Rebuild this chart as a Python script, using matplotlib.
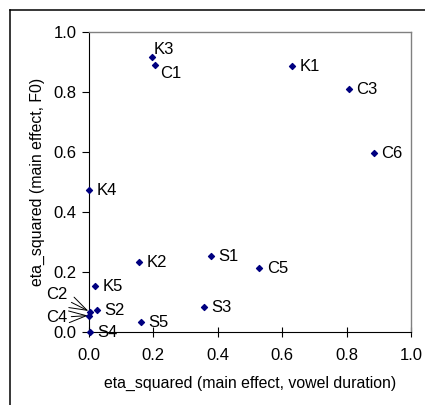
import matplotlib
matplotlib.use("Agg")
from matplotlib import pyplot as plt
from matplotlib.lines import Line2D

plt.rcParams['font.family'] = ['Liberation Sans', 'DejaVu Sans']

labels = ["K1", "K2", "K3", "K4", "K5",
          "C1", "C2", "C3", "C4", "C5", "C6",
          "S1", "S2", "S3", "S4", "S5"]
vowel_duration = [0.630, 0.155, 0.196, 0.000, 0.018,
                  0.205, 0.002, 0.807, 0.001, 0.529, 0.885,
                  0.378, 0.025, 0.357, 0.003, 0.160]
f0 = [0.887, 0.234, 0.917, 0.473, 0.153,
      0.890, 0.068, 0.810, 0.055, 0.214, 0.597,
      0.254, 0.073, 0.084, 0.000, 0.035]
ticks = [0.0, 0.2, 0.4, 0.6, 0.8, 1.0]

# label offsets in points (dx, dy)
offsets = {"K3": (1, 5), "C1": (4, -6)}
callouts = {"C2": (-16, 12), "C4": (-16, -1.5)}

fig = plt.figure(figsize=(4.25, 4.05), dpi=100)
ax = fig.add_axes([89 / 425, 73 / 405, 322 / 425, 300 / 405])

# outer chart frame (only left and top edges fall inside the image)
x0, y0 = 9.5 / 425, (405 - 9.5) / 405
fig.lines.append(Line2D([x0, x0], [-0.1, y0], transform=fig.transFigure,
                        color='black', lw=1.1))
fig.lines.append(Line2D([x0, 1.0], [y0, y0], transform=fig.transFigure,
                        color='black', lw=1.1))

ax.scatter(vowel_duration, f0, marker='D', s=9, color='#000080',
           zorder=5, clip_on=False)

for name, x, y in zip(labels, vowel_duration, f0):
    if name in callouts:
        dx, dy = callouts[name]
        ax.annotate(name, (x, y), xytext=(dx, dy), textcoords='offset points',
                    ha='right', va='center', fontsize=12,
                    arrowprops=dict(arrowstyle='->,head_length=0.9,head_width=0.3',
                                    lw=0.7, color='black',
                                    shrinkA=1, shrinkB=1,
                                    mutation_scale=14))
        continue
    dx, dy = offsets.get(name, (5.5, -0.5))
    ax.annotate(name, (x, y), xytext=(dx, dy), textcoords='offset points',
                ha='left', va='center', fontsize=12)

ax.set_xlim(0, 1)
ax.set_ylim(0, 1)
ax.set_xticks(ticks)
ax.set_yticks(ticks)
ax.set_xticklabels([f"{t:.1f}" for t in ticks])
ax.set_yticklabels([f"{t:.1f}" for t in ticks])
ax.tick_params(axis='y', direction='out', length=5, width=0.8, labelsize=12, pad=4)
ax.tick_params(axis='x', direction='inout', length=7, width=0.8, labelsize=12, pad=8)

for side in ['top', 'right']:
    ax.spines[side].set_color('#808080')
    ax.spines[side].set_linewidth(1.0)
for side in ['left', 'bottom']:
    ax.spines[side].set_color('black')
    ax.spines[side].set_linewidth(0.8)

ax.set_xlabel("eta_squared (main effect, vowel duration)", fontsize=11.4, labelpad=9)
ax.set_ylabel("eta_squared (main effect, F0)", fontsize=11.4, labelpad=6)

fig.savefig("out.png", dpi=100)
